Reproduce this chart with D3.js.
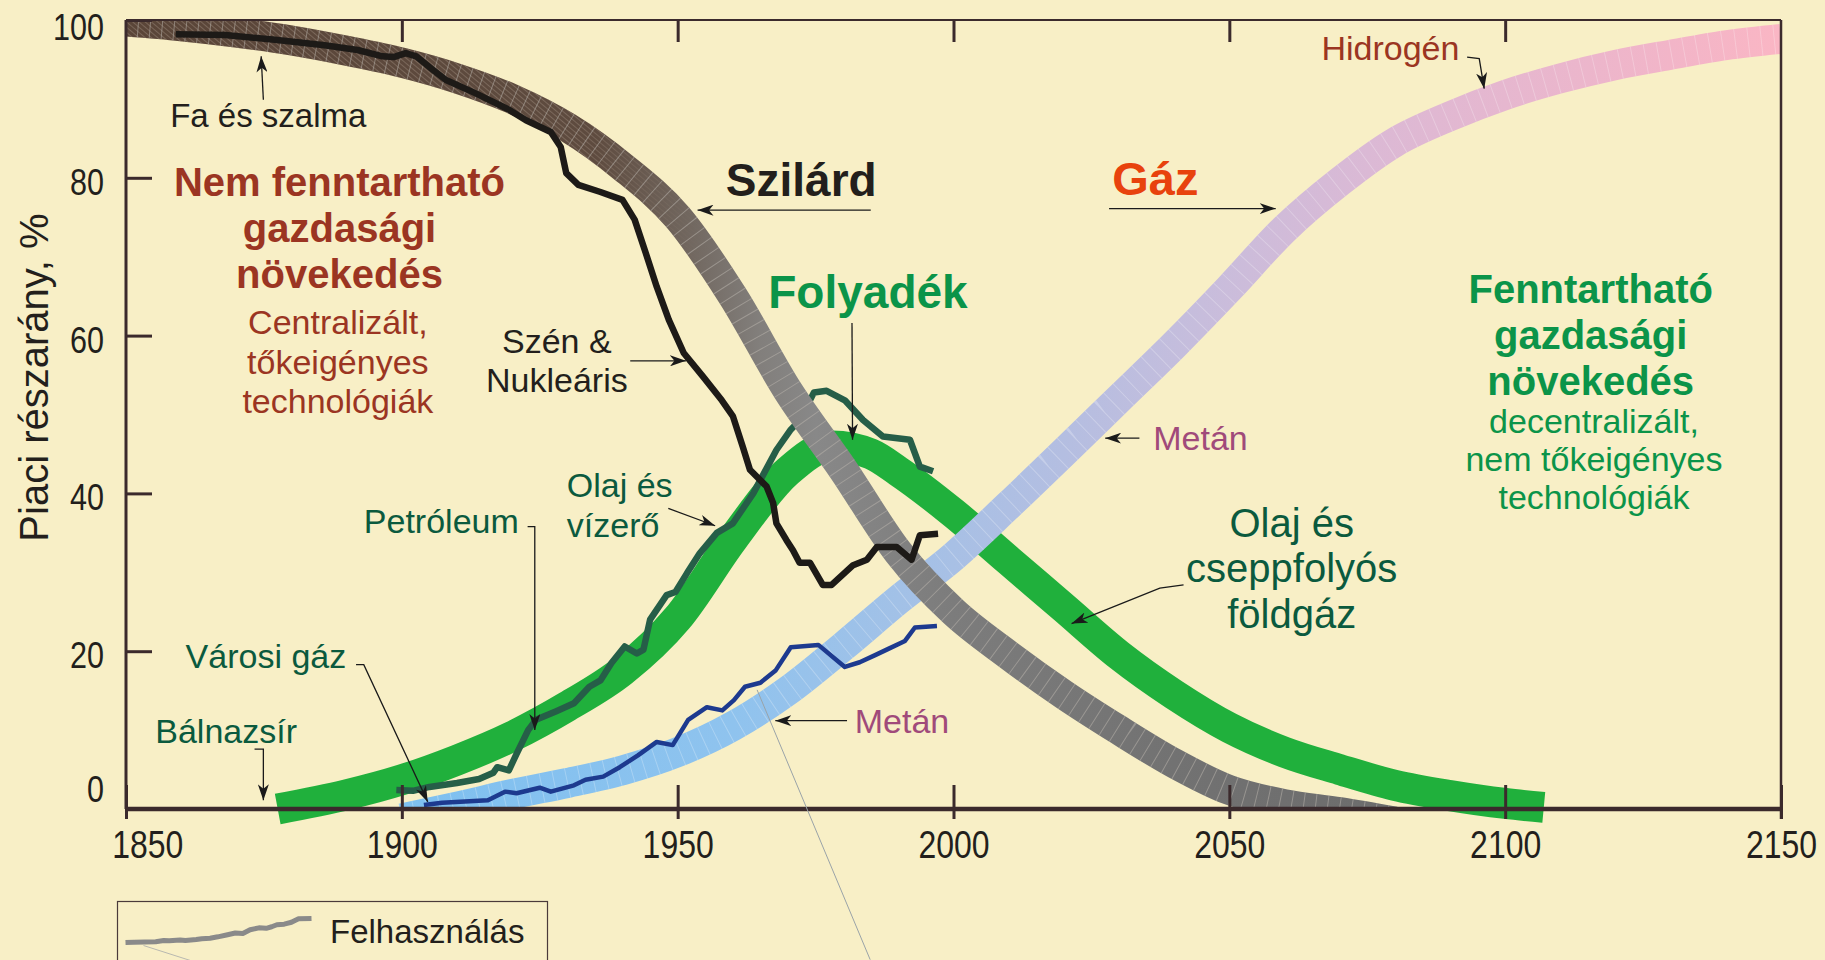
<!doctype html>
<html lang="hu">
<head>
<meta charset="UTF-8">
<title>Piaci részarány</title>
<style>
  html, body { margin: 0; padding: 0; background: #f8efc6; }
  svg { display: block; font-family: "Liberation Sans", Arial, sans-serif; }
</style>
</head>
<body>
<svg width="1825" height="960"></svg>
<script src="https://cdn.jsdelivr.net/npm/d3@7/dist/d3.min.js"></script>
<script>
// tick labels
const xTicks = [1850, 1900, 1950, 2000, 2050, 2100, 2150];
const topTicks = [1900, 1950, 2000, 2050, 2100];
const yTicks = [0, 20, 40, 60, 80, 100];

// model bands (year, market share %)
const solidBand = [[1850, 99.8], [1860, 99.2], [1870, 98.4], [1880, 97.4], [1890, 96.1], [1900, 94.6],
  [1910, 92.6], [1920, 90.0], [1930, 86.4], [1940, 81.4], [1950, 75.0], [1960, 65.0], [1970, 53.0],
  [1980, 43.0], [1990, 32.5], [2000, 25.0], [2010, 19.5], [2020, 14.5], [2030, 10.0], [2040, 5.8],
  [2050, 2.4], [2060, 0.6], [2070, -0.4], [2080, -1.6]];
const liquidBand = [[1877.5, 0.0], [1890, 1.8], [1900, 3.7], [1910, 6.2], [1920, 9.2], [1930, 13.0],
  [1940, 17.5], [1950, 24.2], [1960, 34.2], [1970, 42.8], [1978, 46.0], [1985, 45.0], [1990, 42.8],
  [2000, 37.5], [2010, 31.5], [2020, 25.5], [2030, 19.5], [2040, 14.5], [2050, 10.3], [2060, 7.2],
  [2070, 5.0], [2080, 3.0], [2090, 1.7], [2100, 0.7], [2107, 0.2]];
const gasBand = [[1900, -1.2], [1910, 0.3], [1920, 1.9], [1930, 3.3], [1940, 4.9], [1950, 7.2],
  [1960, 10.5], [1970, 15.0], [1980, 20.6], [1990, 26.5], [2000, 32.0], [2010, 38.5], [2020, 45.2],
  [2030, 52.0], [2040, 58.8], [2050, 66.0], [2060, 73.5], [2070, 79.5], [2080, 84.5], [2090, 87.8],
  [2100, 90.5], [2110, 92.6], [2120, 94.3], [2130, 95.6], [2140, 96.8], [2150, 97.6]];

// historical use (Felhasználás)
const coalNuclear = [[1859, 98.2], [1868, 98.1], [1877, 97.5], [1886, 96.8], [1892, 96.2], [1896.5, 95.4],
  [1898.5, 95.3], [1900.7, 95.8], [1902.6, 95.4], [1905.6, 93.7], [1908, 92.4], [1913.4, 90.7],
  [1919.5, 88.6], [1922.5, 87.3], [1927, 85.8], [1928.8, 83.9], [1929.8, 80.6], [1932, 79.1],
  [1936, 78.2], [1940, 77.2], [1942.2, 74.7], [1944.2, 70.5], [1946.2, 66.2], [1948.4, 62],
  [1951.1, 57.8], [1954.6, 54.8], [1958, 51.8], [1960, 49.8], [1961.8, 45.9], [1963.1, 43],
  [1966.1, 40.9], [1967.3, 38.8], [1967.9, 36.2], [1969.7, 34.1], [1970.9, 32.8], [1972.1, 31.2],
  [1974, 31.2], [1976.3, 28.4], [1977.9, 28.4], [1981.8, 30.9], [1984.3, 31.6], [1986.1, 33.2],
  [1989.7, 33.2], [1992.4, 31.6], [1993.9, 34.7], [1997.2, 34.9]];
const oilHydro = [[1899, 2.4], [1902, 2.3], [1905, 2.8], [1910, 3.3], [1914, 3.8], [1916.6, 4.6],
  [1917.3, 5.3], [1919.4, 4.9], [1920.8, 7.0], [1922.9, 10], [1924.3, 11.3], [1928, 12.4],
  [1931.2, 13.4], [1934, 15.5], [1936, 16.3], [1938, 18.5], [1940.4, 20.6], [1942.6, 19.7],
  [1943.8, 20.2], [1945, 24], [1948, 27.1], [1949.6, 27.5], [1951.7, 29.9], [1954, 32.4],
  [1957.1, 35], [1960, 36.2], [1963.7, 40], [1967.9, 45.5], [1970.4, 48], [1972.2, 49.3],
  [1974.7, 52.8], [1977, 53.0], [1980.3, 51.8], [1983.6, 49.3], [1987.2, 47.2], [1992.1, 46.8],
  [1993.9, 43.4], [1996.3, 42.8]];
const methane = [[1904, 0.5], [1907.3, 0.8], [1915.6, 1.1], [1918.7, 2.2], [1920.8, 2.0], [1925, 2.7],
  [1927, 2.2], [1931.2, 3.0], [1933.3, 3.7], [1936.5, 4.1], [1939.5, 5.3], [1942.8, 6.8],
  [1946.2, 8.5], [1949.1, 8.1], [1951.9, 11.3], [1955.3, 12.9], [1958.1, 12.5], [1960.2, 13.8],
  [1962.2, 15.5], [1965, 16], [1967.8, 17.6], [1970.5, 20.5], [1975.5, 20.8], [1980.3, 18],
  [1983, 18.6], [1985.8, 19.5], [1987.9, 20.2], [1991.2, 21.3], [1993, 23.0], [1997, 23.2]];

const ink = "#231f1c", rust = "#9b3522", green = "#0b9449", darkGreen = "#0b5a3e",
  plum = "#a04a7a", orange = "#e8420d", axisColor = "#3b2a2c";

const svg = d3.select("svg");
const x = d3.scaleLinear().domain([1850, 2150]).range([126, 1781]);
const y = d3.scaleLinear().domain([0, 100]).range([809, 20]);

const defs = svg.append("defs");
defs.append("clipPath").attr("id", "plot").append("rect")
  .attr("x", x(1850)).attr("y", y(100)).attr("width", x(2150) - x(1850)).attr("height", y(0) - y(100));

function gradient(id, x1, x2, stops) {
  const g = defs.append("linearGradient").attr("id", id).attr("gradientUnits", "userSpaceOnUse")
    .attr("x1", x(x1)).attr("x2", x(x2)).attr("y1", 0).attr("y2", 0);
  stops.forEach(s => g.append("stop").attr("offset", (s[0] - x1) / (x2 - x1)).attr("stop-color", s[1]));
}
gradient("solidGrad", 1850, 2080, [[1850, "#5a4538"], [1935, "#5e4b3f"], [1952, "#71675f"],
  [1965, "#827f7c"], [1975, "#888888"], [2000, "#7c7c7c"], [2040, "#727272"], [2080, "#6c6c6c"]]);
gradient("gasGrad", 1900, 2150, [[1900, "#7ec0f0"], [1960, "#8fc3ee"], [1990, "#a2c1e7"],
  [2020, "#b4bee1"], [2045, "#c7bddc"], [2075, "#dbb9d5"], [2100, "#e6b7cf"], [2130, "#f2b5c8"], [2150, "#fab6c4"]]);
gradient("fade", 1930, 1956, [[1930, "#fff"], [1956, "#000"]]);

const hatch = defs.append("pattern").attr("id", "hatch").attr("patternUnits", "userSpaceOnUse")
  .attr("width", 4).attr("height", 4).attr("patternTransform", "rotate(-50)");
hatch.append("line").attr("x1", 0).attr("y1", 0).attr("x2", 0).attr("y2", 4)
  .attr("stroke", "#9a887a").attr("stroke-width", 1);
defs.append("mask").attr("id", "fadeMask").append("rect")
  .attr("x", 0).attr("y", 0).attr("width", 1825).attr("height", 960).attr("fill", "url(#fade)");

defs.append("marker").attr("id", "arrow").attr("viewBox", "0 0 16 11").attr("refX", 16).attr("refY", 5.5)
  .attr("markerWidth", 16).attr("markerHeight", 11).attr("markerUnits", "userSpaceOnUse").attr("orient", "auto")
  .append("path").attr("d", "M0,0 L16,5.5 L0,11 L4.5,5.5 Z").attr("fill", "#1a1a1a");

const smooth = d3.line().x(d => x(d[0])).y(d => y(d[1])).curve(d3.curveMonotoneX);
const jagged = d3.line().x(d => x(d[0])).y(d => y(d[1]));

// liquid band
svg.append("path").attr("d", smooth(liquidBand)).attr("fill", "none")
  .attr("stroke", "#20b03c").attr("stroke-width", 31);

// gas band
const gasG = svg.append("g").attr("clip-path", "url(#plot)");
gasG.append("path").attr("d", smooth(gasBand)).attr("fill", "none")
  .attr("stroke", "url(#gasGrad)").attr("stroke-width", 30);
gasG.append("path").attr("d", smooth(gasBand)).attr("fill", "none")
  .attr("stroke", "#ffffff").attr("stroke-opacity", 0.25).attr("stroke-width", 30)
  .attr("stroke-dasharray", "1 12");

// oil line goes under the solid band
svg.append("path").attr("d", jagged(oilHydro)).attr("fill", "none")
  .attr("stroke", "#265e48").attr("stroke-width", 6.5).attr("stroke-linejoin", "round");

// solid band
const solidG = svg.append("g").attr("clip-path", "url(#plot)");
solidG.append("path").attr("d", smooth(solidBand)).attr("fill", "none")
  .attr("stroke", "url(#solidGrad)").attr("stroke-width", 30);
solidG.append("path").attr("d", smooth(solidBand.filter(d => d[0] <= 1970))).attr("fill", "none")
  .attr("stroke", "url(#hatch)").attr("stroke-width", 30).attr("mask", "url(#fadeMask)");
solidG.append("path").attr("d", smooth(solidBand)).attr("fill", "none")
  .attr("stroke", "#b8b2ab").attr("stroke-opacity", 0.55).attr("stroke-width", 30)
  .attr("stroke-dasharray", "1 11");

// coal & nuclear, methane
svg.append("path").attr("d", jagged(coalNuclear)).attr("fill", "none")
  .attr("stroke", "#1d1a17").attr("stroke-width", 6.5).attr("stroke-linejoin", "round");
svg.append("path").attr("d", jagged(methane)).attr("fill", "none")
  .attr("stroke", "#1d3a8f").attr("stroke-width", 4.5).attr("stroke-linejoin", "round");

// axes and frame
const frame = svg.append("g").attr("stroke", axisColor).attr("fill", "none");
frame.append("line").attr("x1", x(1850)).attr("x2", x(2150)).attr("y1", y(100)).attr("y2", y(100)).attr("stroke-width", 2);
frame.append("line").attr("x1", x(1850)).attr("x2", x(1850)).attr("y1", y(100)).attr("y2", y(0)).attr("stroke-width", 3);
frame.append("line").attr("x1", x(2150)).attr("x2", x(2150)).attr("y1", y(100)).attr("y2", y(0) + 10).attr("stroke-width", 2.5);

const gx = svg.append("g").attr("transform", `translate(0,${y(0)})`)
  .call(d3.axisBottom(x).tickValues(xTicks).tickFormat(d3.format("d")).tickSizeInner(10).tickSizeOuter(0));
gx.attr("font-size", null).attr("font-family", null);
gx.select(".domain").remove();
gx.selectAll(".tick line").attr("y1", -24).attr("y2", 10).attr("stroke", axisColor).attr("stroke-width", 3);
gx.selectAll(".tick text").attr("y", 49).attr("dy", 0).attr("fill", ink).attr("font-size", 39)
  .attr("x", d => d === 1850 ? 26 : 0)
  .attr("transform", "scale(0.82,1)");
frame.append("line").attr("x1", x(1850)).attr("x2", x(2150)).attr("y1", y(0)).attr("y2", y(0)).attr("stroke-width", 4.5);

const gt = svg.append("g").attr("transform", `translate(0,${y(100)})`)
  .call(d3.axisTop(x).tickValues(topTicks).tickFormat("").tickSize(-22));
gt.select(".domain").remove();
gt.selectAll(".tick line").attr("stroke", axisColor).attr("stroke-width", 3);

const gy = svg.append("g").attr("transform", `translate(${x(1850)},0)`)
  .call(d3.axisLeft(y).tickValues(yTicks).tickSize(-26).tickPadding(22));
gy.attr("font-size", null).attr("font-family", null);
gy.select(".domain").remove();
gy.selectAll(".tick line").attr("stroke", axisColor).attr("stroke-width", 3);
gy.selectAll(".tick text").attr("fill", ink).attr("font-size", 36)
  .attr("dy", d => d === 0 ? -7.6 : d === 100 ? 19.5 : 16.5)
  .attr("textLength", d => String(d).length * 17).attr("lengthAdjust", "spacingAndGlyphs");

svg.append("text").attr("transform", `translate(48,${(y(0) + y(100)) / 2 - 37}) rotate(-90)`)
  .attr("text-anchor", "middle").attr("font-size", 40).attr("fill", ink).text("Piaci részarány, %");

// annotations, anchored in data units
const notes = [
  { t: ["Fa és szalma"], at: [1858.0, 86.4], a: "start", fs: 33, c: ink },
  { t: ["Nem fenntartható", "gazdasági", "növekedés"], at: [1888.7, 77.7], a: "middle", fs: 40, w: "bold", c: rust, lh: 46 },
  { t: ["Centralizált,", "tőkeigényes", "technológiák"], at: [1888.4, 60.2], a: "middle", fs: 34, c: rust, lh: 39.5 },
  { t: ["Szén &", "Nukleáris"], at: [1928.1, 57.8], a: "middle", fs: 34, c: ink, lh: 39 },
  { t: ["Szilárd"], at: [1972.4, 77.7], a: "middle", fs: 46, w: "bold", c: ink },
  { t: ["Gáz"], at: [2036.6, 77.8], a: "middle", fs: 47, w: "bold", c: orange },
  { t: ["Folyadék"], at: [1984.5, 63.5], a: "middle", fs: 46, w: "bold", c: green },
  { t: ["Hidrogén"], at: [2079.2, 94.9], a: "middle", fs: 34, c: rust },
  { t: ["Metán"], at: [2036.2, 45.5], a: "start", fs: 34, c: plum },
  { t: ["Metán"], at: [1982.1, 9.6], a: "start", fs: 34, c: plum },
  { t: ["Fenntartható", "gazdasági", "növekedés"], at: [2115.5, 64.1], a: "middle", fs: 40, w: "bold", c: green, lh: 46 },
  { t: ["decentralizált,", "nem tőkeigényes", "technológiák"], at: [2116.1, 47.7], a: "middle", fs: 34, c: green, lh: 38 },
  { t: ["Olaj és", "vízerő"], at: [1929.9, 39.6], a: "start", fs: 34, c: darkGreen, lh: 40 },
  { t: ["Petróleum"], at: [1921.2, 35.0], a: "end", fs: 34, c: darkGreen },
  { t: ["Városi gáz"], at: [1860.8, 17.9], a: "start", fs: 34, c: darkGreen },
  { t: ["Bálnazsír"], at: [1855.3, 8.4], a: "start", fs: 34, c: darkGreen },
  { t: ["Olaj és", "cseppfolyós", "földgáz"], at: [2061.3, 34.5], a: "middle", fs: 40, c: darkGreen, lh: 45.5 }
];
notes.forEach(n => {
  const txt = svg.append("text").attr("text-anchor", n.a).attr("font-size", n.fs)
    .attr("font-weight", n.w || "normal").attr("fill", n.c);
  n.t.forEach((line, i) => txt.append("tspan").attr("x", x(n.at[0])).attr("y", y(n.at[1]) + i * (n.lh || 0)).text(line));
});

const leaders = [
  [[1874.9, 89.9], [1874.5, 95.4]],
  [[1941.4, 56.8], [1951.5, 56.8]],
  [[1985.0, 75.9], [1953.6, 75.9]],
  [[2028.2, 76.1], [2058.4, 76.1]],
  [[1981.6, 61.6], [1981.7, 46.8]],
  [[2093.1, 95.3], [2095.3, 95.1], [2096.2, 91.3]],
  [[2033.7, 47.0], [2027.5, 47.0]],
  [[1980.7, 11.2], [1967.7, 11.2]],
  [[1948.3, 38.1], [1956.8, 35.9]],
  [[1922.8, 35.8], [1924.1, 35.8], [1924.1, 10.0]],
  [[1891.7, 18.3], [1893.1, 18.3], [1904.7, 0.9]],
  [[1873.3, 7.6], [1874.9, 7.6], [1874.9, 1.1]],
  [[2041.7, 28.4], [2037.4, 28.0], [2021.4, 23.5]]
];
svg.append("g").selectAll("path").data(leaders).join("path")
  .attr("d", jagged).attr("fill", "none").attr("stroke", "#1a1a1a").attr("stroke-width", 1.3)
  .attr("marker-end", "url(#arrow)");
svg.append("path").attr("d", jagged([[1964.4, 15.1], [1984.9, -19.1]]))
  .attr("stroke", "#9aa3a8").attr("stroke-width", 1).attr("fill", "none");

// legend (bottom, partly cut off)
const leg = svg.append("g").attr("transform", "translate(117.5,901.5)");
leg.append("rect").attr("width", 430).attr("height", 90).attr("fill", "none")
  .attr("stroke", "#4a3a3a").attr("stroke-width", 1.2);
const sample = methane.filter(d => d[0] <= 1976);
const lx = d3.scaleLinear().domain(d3.extent(sample, d => d[0])).range([8, 194]);
const ly = d3.scaleLinear().domain(d3.extent(sample, d => d[1])).range([41, 17]);
leg.append("path").attr("d", d3.line().x(d => lx(d[0])).y(d => ly(d[1]))(sample))
  .attr("fill", "none").attr("stroke", "#8a8a8a").attr("stroke-width", 5).attr("stroke-linejoin", "round");
leg.append("line").attr("x1", 26).attr("y1", 44).attr("x2", 76).attr("y2", 60)
  .attr("stroke", "#b8b8b0").attr("stroke-width", 1);
leg.append("text").attr("x", 212.5).attr("y", 41.5).attr("font-size", 33).attr("fill", ink).text("Felhasználás");
</script>
</body>
</html>
